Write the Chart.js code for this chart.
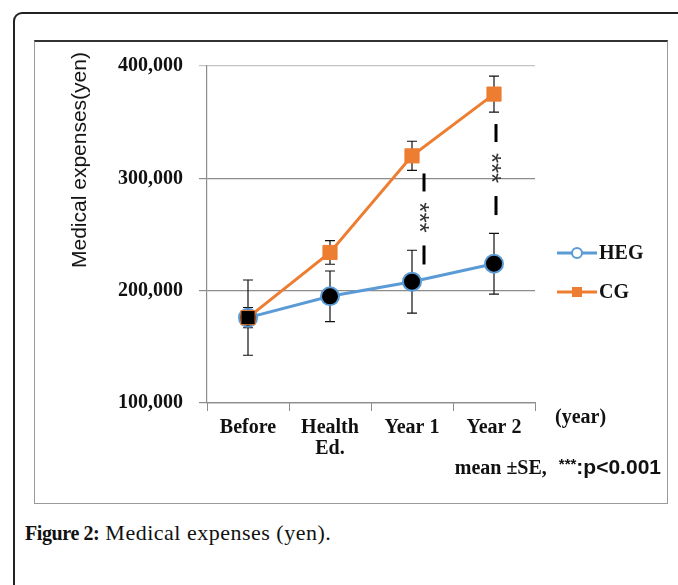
<!DOCTYPE html>
<html>
<head>
<meta charset="utf-8">
<script src="https://cdn.jsdelivr.net/npm/chart.js@4"></script>
<style>
  body { margin: 0; background: #fff; width: 678px; height: 585px; overflow: hidden; position: relative; }
  #frame { position: absolute; left: 13px; top: 12px; width: 720px; height: 700px; border: 2px solid #222; border-radius: 9px; }
  #box { position: absolute; left: 34px; top: 40px; width: 632px; height: 461px; border: 1.5px solid #9a9a9a; border-top: 2px solid #333; }
  #wrap { position: absolute; left: 35px; top: 38px; width: 632px; height: 464px; }
  #wrap canvas { display: block; }
  .txt { position: absolute; white-space: nowrap; color: #111; }
  #ytitle { left: 79px; top: 160px; font: 21px "Liberation Sans", Arial, sans-serif; transform: translate(-50%, -50%) rotate(-90deg); }
  #year { left: 555px; top: 405px; font: bold 20px "Liberation Serif", serif; }
  #note { right: 17px; top: 455px; }
  #caption { left: 25px; top: 520px; font: 22px "Liberation Serif", serif; letter-spacing: 0.5px; }
  #caption b { font: bold 20px "Liberation Serif", serif; letter-spacing: -0.4px; }
</style>
</head>
<body>
<div id="frame"></div>
<div id="box"></div>
<div id="wrap"><canvas id="expChart" width="632" height="464"></canvas></div>
<div class="txt" id="ytitle">Medical expenses(yen)</div>
<div class="txt" id="year">(year)</div>
<div class="txt" id="note"><span style="font: bold 20px 'Liberation Serif', serif">mean ±SE,</span><span style="display: inline-block; width: 12px"></span><span style="font: bold 21px 'Liberation Sans', sans-serif"><span style="font-size: 15px; vertical-align: 5px">***</span>:p&lt;0.001</span></div>
<div class="txt" id="caption"><b>Figure 2:</b> Medical expenses (yen).</div>
<script>
// values
const categories = ["Before", ["Health", "Ed."], "Year 1", "Year 2"];
const hegMeans = [176000, 195000, 208000, 224000];
const hegSE = [33500, 22500, 28000, 27000];
const cgMeans = [176000, 234000, 320000, 375000];
const cgSE = [9000, 10500, 13000, 16000];
const yTicks = [100000, 200000, 300000, 400000];
const sigIndex = [2, 3];
const sigLabel = "***";

const blue = "#5B9BD5";
const orange = "#ED7D31";
const axisGray = "#8c8c8c";

// error bars, drawn under the markers
const errorBars = {
  id: "errorBars",
  beforeDatasetsDraw(chart) {
    const ctx = chart.ctx;
    const x = chart.scales.x, y = chart.scales.y;
    const sets = [[hegMeans, hegSE], [cgMeans, cgSE]];
    ctx.save();
    ctx.strokeStyle = "#111";
    ctx.lineWidth = 1.2;
    sets.forEach(([m, se]) => {
      m.forEach((v, i) => {
        const px = x.getPixelForValue(i);
        const top = y.getPixelForValue(v + se[i]);
        const bot = y.getPixelForValue(v - se[i]);
        ctx.beginPath();
        ctx.moveTo(px, top); ctx.lineTo(px, bot);
        ctx.moveTo(px - 5, top); ctx.lineTo(px + 5, top);
        ctx.moveTo(px - 5, bot); ctx.lineTo(px + 5, bot);
        ctx.stroke();
      });
    });
    ctx.restore();
  }
};

// significance marks and legend
const extras = {
  id: "extras",
  afterDraw(chart, args, opts) {
    const ctx = chart.ctx;
    const x = chart.scales.x, y = chart.scales.y;
    ctx.save();
    sigIndex.forEach((i, k) => {
      const px = x.getPixelForValue(i) + opts.sigOffsets[k];
      const start = y.getPixelForValue(cgMeans[i] - cgSE[i]) + opts.sigGaps[k];
      ctx.fillStyle = "#000";
      ctx.fillRect(px - 1.5, start, 3, 18);
      ctx.fillRect(px - 1.5, start + 72, 3, 19);
      ctx.save();
      ctx.translate(px, start + 44);
      ctx.rotate(Math.PI / 2);
      ctx.fillStyle = "#333";
      ctx.font = "26px 'Liberation Sans', sans-serif";
      ctx.textAlign = "center";
      ctx.textBaseline = "middle";
      ctx.fillText(sigLabel, 0, 6);
      ctx.restore();
    });

    // legend: line with marker, then bold label
    chart.data.datasets.forEach((ds, k) => {
      const ly = opts.legendTop + k * 39;
      const lx = opts.legendLeft;
      ctx.strokeStyle = ds.borderColor;
      ctx.lineWidth = 3;
      ctx.beginPath();
      ctx.moveTo(lx, ly); ctx.lineTo(lx + 40, ly);
      ctx.stroke();
      if (ds.pointStyle === "rect") {
        ctx.fillStyle = ds.borderColor;
        ctx.fillRect(lx + 15, ly - 5, 10, 10);
      } else {
        ctx.fillStyle = "#fff";
        ctx.lineWidth = 2;
        ctx.beginPath();
        ctx.arc(lx + 20, ly, 5, 0, Math.PI * 2);
        ctx.fill(); ctx.stroke();
      }
      ctx.fillStyle = "#111";
      ctx.font = "bold 20px 'Liberation Serif', serif";
      ctx.textAlign = "left";
      ctx.textBaseline = "middle";
      ctx.fillText(ds.label, lx + 42, ly + 1);
    });
    ctx.restore();
  }
};

new Chart(document.getElementById("expChart").getContext("2d"), {
  type: "line",
  data: {
    labels: categories,
    datasets: [
      {
        label: "HEG",
        data: hegMeans,
        borderColor: blue,
        borderWidth: 3,
        pointRadius: 9,
        pointBorderWidth: 2,
        pointBackgroundColor: "#000",
        pointBorderColor: blue,
        order: 1
      },
      {
        label: "CG",
        data: cgMeans,
        borderColor: orange,
        borderWidth: 3,
        pointStyle: "rect",
        pointRadius: 10,
        pointBorderWidth: 1,
        pointBackgroundColor: ["#000", orange, orange, orange],
        pointBorderColor: orange,
        order: 0
      }
    ]
  },
  options: {
    responsive: false,
    animation: false,
    layout: { padding: { top: 14, right: 132, left: 0, bottom: 0 } },
    plugins: {
      legend: { display: false },
      tooltip: { enabled: false },
      extras: { sigOffsets: [12, 2], sigGaps: [3, 12], legendLeft: 522, legendTop: 215 }
    },
    scales: {
      x: {
        offset: true,
        afterFit(s) { s.height = 99; },
        grid: { offset: true, drawOnChartArea: false, tickLength: 8, color: axisGray },
        border: { color: axisGray, width: 1.2 },
        ticks: {
          color: "#111",
          padding: 6,
          maxRotation: 0,
          font: { family: "'Liberation Serif', serif", size: 20, weight: "bold", lineHeight: 1.05 }
        }
      },
      y: {
        min: 100000,
        max: 400000,
        afterFit(s) { s.width = 172; },
        afterBuildTicks(s) { s.ticks = yTicks.map(v => ({ value: v })); },
        grid: {
          tickLength: 8,
          lineWidth: 1.2,
          color: c => (c.tick && c.tick.value === 400000 ? "#c4c4c4" : axisGray)
        },
        border: { color: axisGray, width: 1.2 },
        ticks: {
          color: "#111",
          padding: 16,
          font: { family: "'Liberation Serif', serif", size: 20, weight: "bold" },
          callback: v => v.toLocaleString("en-US")
        }
      }
    }
  },
  plugins: [errorBars, extras]
});
</script>
</body>
</html>
